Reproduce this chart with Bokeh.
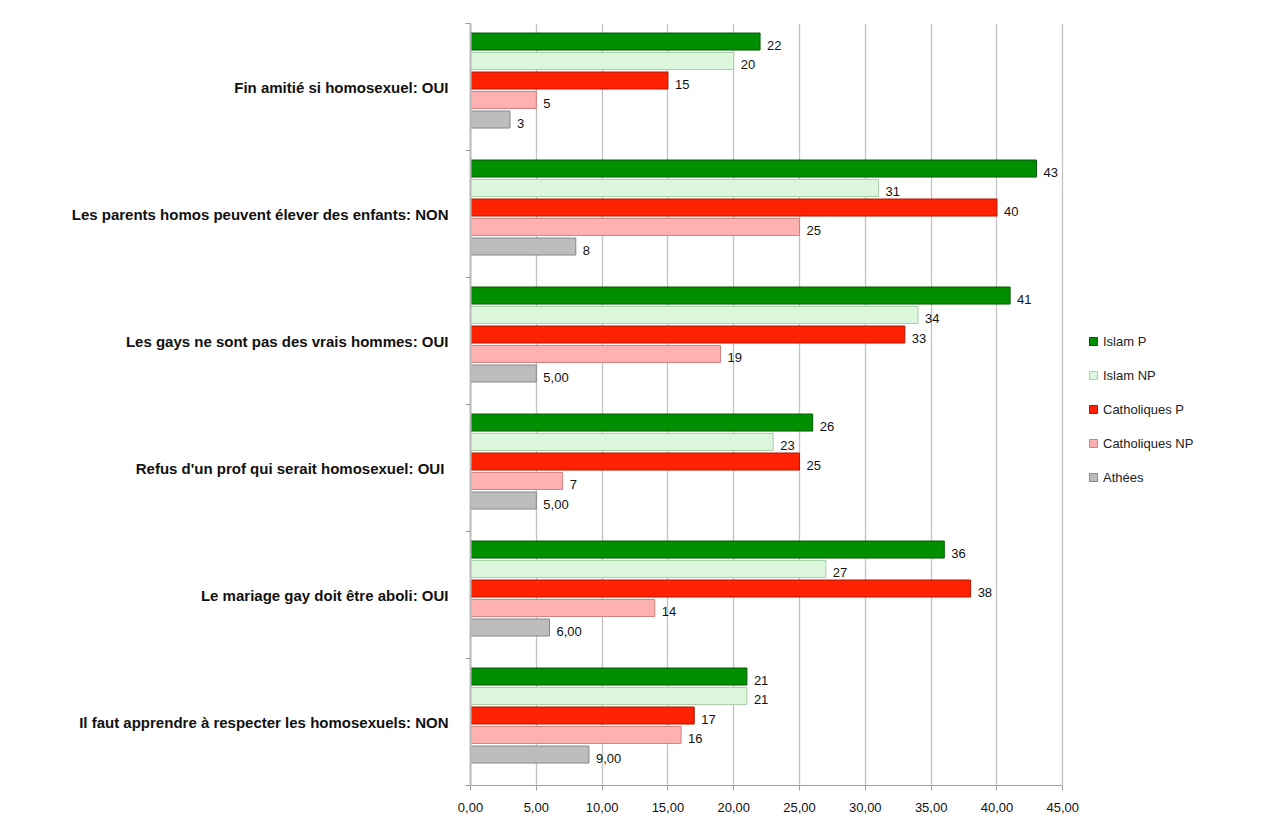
from bokeh.plotting import figure
from bokeh.models import ColumnDataSource, FixedTicker, Legend, LegendItem
from bokeh.core.properties import value
from bokeh.embed import file_html
from bokeh.resources import INLINE

# ---- data (top to bottom as in the picture) ----
categories = [
    "Fin amitié si homosexuel: OUI",
    "Les parents homos peuvent élever des enfants: NON",
    "Les gays ne sont pas des vrais hommes: OUI",
    "Refus d'un prof qui serait homosexuel: OUI ",
    "Le mariage gay doit être aboli: OUI",
    "Il faut apprendre à respecter les homosexuels: NON",
]
series_names = ["Islam P", "Islam NP", "Catholiques P", "Catholiques NP", "Athées"]
islam_p = [22, 43, 41, 26, 36, 21]
islam_np = [20, 31, 34, 23, 27, 21]
catholiques_p = [15, 40, 33, 25, 38, 17]
catholiques_np = [5, 25, 19, 7, 14, 16]
athees = [3, 8, 5, 5, 6, 9]
athees_labels = ["3", "8", "5,00", "5,00", "6,00", "9,00"]
x_ticks = [0, 5, 10, 15, 20, 25, 30, 35, 40, 45]
x_tick_labels = ["0,00", "5,00", "10,00", "15,00", "20,00", "25,00", "30,00", "35,00", "40,00", "45,00"]

# ---- styling ----
fills = ["#008f00", "#dcf7dc", "#ff2200", "#ffb0b0", "#bdbdbd"]
lines = ["#005a00", "#a8cfa8", "#b01800", "#d08080", "#888888"]
offsets = [0.358, 0.205, 0.051, -0.102, -0.256]
bar_h = 0.134

all_values = [islam_p, islam_np, catholiques_p, catholiques_np, athees]
all_labels = [[str(v) for v in islam_p], [str(v) for v in islam_np],
              [str(v) for v in catholiques_p], [str(v) for v in catholiques_np],
              athees_labels]

n = len(categories)
centers = [n - k - 0.5 for k in range(n)]

# frame spans to the right edge so the legend can sit inside it;
# the value axis itself is bounded to 0..45
p = figure(width=1261, height=820, x_range=(0, 60.1), y_range=(0, n),
           output_backend="svg", toolbar_location=None,
           min_border_left=470, min_border_right=0,
           min_border_top=23, min_border_bottom=35)
p.outline_line_color = None
p.background_fill_color = "white"

p.xgrid.ticker = FixedTicker(ticks=x_ticks)
p.xgrid.grid_line_color = "#c2c2c2"
p.xgrid.grid_line_width = 1.3
p.ygrid.grid_line_color = None

legend_items = []
for i, name in enumerate(series_names):
    ys = [c + offsets[i] for c in centers]
    src = ColumnDataSource(dict(y=ys, x=all_values[i], lab=all_labels[i]))
    r = p.hbar(y="y", right="x", left=0, height=bar_h, source=src,
               fill_color=fills[i], line_color=lines[i], line_width=1)
    p.text(x="x", y="y", text="lab", source=src, x_offset=7, y_offset=4,
           text_baseline="middle", text_align="left",
           text_font=value("Liberation Sans"), text_font_size="13px",
           text_color="#111111")
    legend_items.append(LegendItem(label=name, renderers=[r]))

# x axis
p.xaxis.ticker = FixedTicker(ticks=x_ticks)
p.xaxis.bounds = (0, 45)
p.xaxis.major_label_overrides = {t: l for t, l in zip(x_ticks, x_tick_labels)}
p.xaxis.major_label_text_font = "Liberation Sans"
p.xaxis.major_label_text_font_size = "13px"
p.xaxis.major_label_text_color = "#111111"
p.xaxis.axis_line_color = "#a0a0a0"
p.xaxis.major_tick_line_color = "#a0a0a0"
p.xaxis.major_tick_out = 5
p.xaxis.major_tick_in = 0
p.xaxis.major_label_standoff = 12

# y axis: labels at group centres, small ticks at group boundaries
p.yaxis.ticker = FixedTicker(ticks=centers, minor_ticks=list(range(0, n + 1)))
p.yaxis.major_label_overrides = {c: categories[k] for k, c in enumerate(centers)}
p.yaxis.major_label_text_font = "Liberation Sans"
p.yaxis.major_label_text_font_style = "bold"
p.yaxis.major_label_text_font_size = "15px"
p.yaxis.major_label_text_color = "#111111"
p.yaxis.major_tick_line_color = None
p.yaxis.minor_tick_line_color = "#999999"
p.yaxis.minor_tick_out = 5
p.yaxis.minor_tick_in = 0
p.yaxis.axis_line_color = "#b8b8b8"
p.yaxis.axis_line_width = 2
p.yaxis.major_label_standoff = 16

legend = Legend(items=legend_items, location=(618, 298))
legend.glyph_width = 10
legend.glyph_height = 10
legend.label_height = 20
legend.spacing = 14
legend.padding = 0
legend.margin = 0
legend.border_line_color = None
legend.background_fill_alpha = 0
legend.label_text_font = "Liberation Sans"
legend.label_text_font_size = "13px"
legend.label_text_color = "#222222"
legend.label_standoff = 5
p.add_layout(legend, "center")

open("out.html", "w").write(file_html(p, INLINE))
